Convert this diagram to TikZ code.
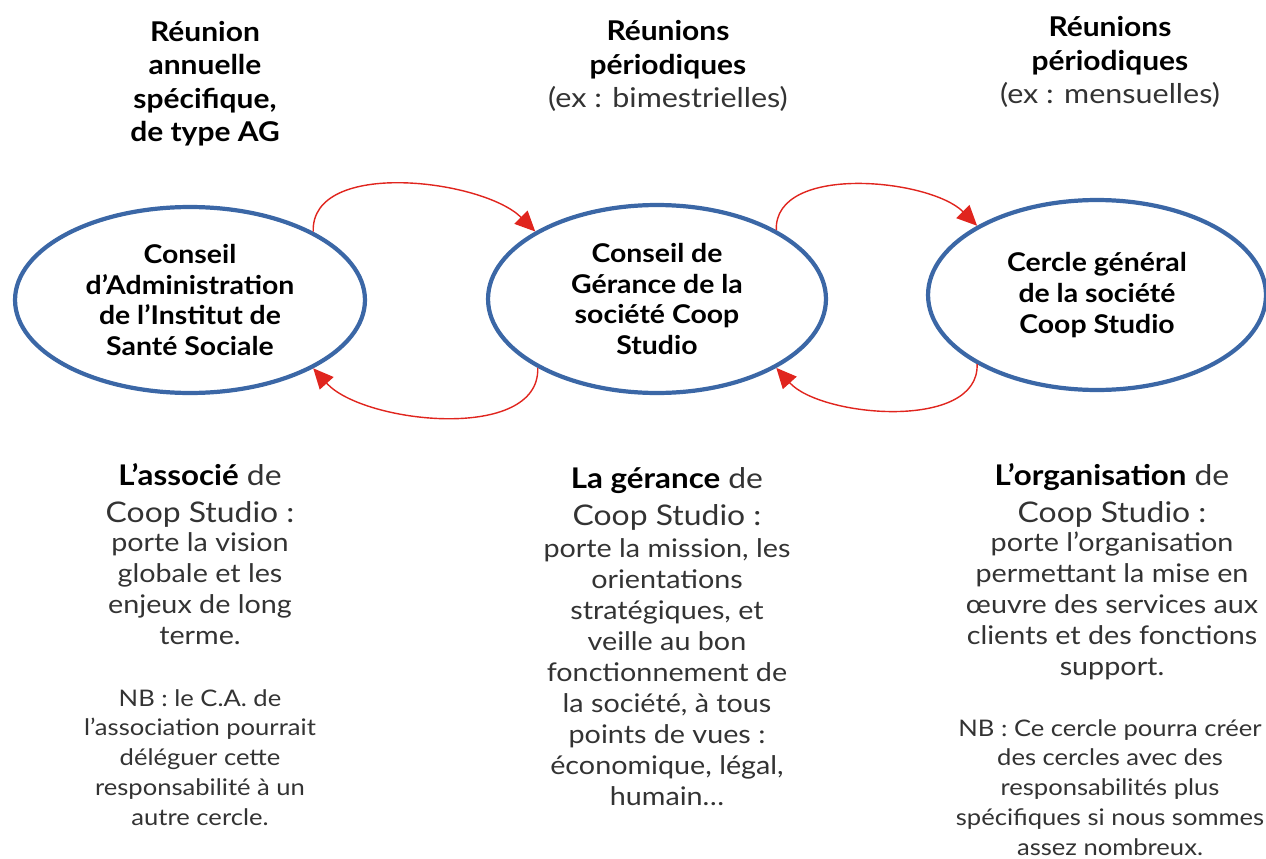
\documentclass[tikz,border=0pt]{standalone}
\usepackage{fontspec}
\setmainfont{Lato}[UprightFeatures={FakeStretch=1.12},BoldFeatures={FakeStretch=1.1}]
\usetikzlibrary{shapes.geometric,arrows.meta,positioning}
\definecolor{ringblue}{HTML}{3B67A6}
\definecolor{cyclered}{HTML}{E0251E}
\definecolor{bodygray}{HTML}{333333}
\tikzset{
  ring/.style={ellipse, draw=ringblue, line width=2.4pt, inner sep=0pt, align=center,
    font=\fontsize{14.7}{17.4}\selectfont\bfseries},
  meeting/.style={anchor=base, align=center, inner sep=0pt, font=\fontsize{15.5}{19.1}\selectfont},
  rolehead/.style={anchor=base, align=center, inner sep=0pt, text=bodygray, font=\fontsize{16.2}{20.5}\selectfont},
  roletext/.style={anchor=base, align=center, inner sep=0pt, text=bodygray, font=\fontsize{14.6}{17.6}\selectfont},
  nbtext/.style={anchor=base, align=center, inner sep=0pt, text=bodygray, font=\fontsize{13}{16.9}\selectfont},
  cyclearrow/.style={draw=cyclered, line width=0.8pt, -{Triangle[length=11.5pt,width=10.5pt]}}
}
\begin{document}
\begin{tikzpicture}[x=0.02cm,y=-0.02cm]
  \useasboundingbox (0,0) rectangle (1266,858);

  % les trois instances
  \node[ring, minimum width=7cm, minimum height=3.72cm] (ca) at (190,300)
    {Conseil\\d'Administration\\de l'Institut de\\Santé Sociale};
  \node[ring, minimum width=6.76cm, minimum height=3.76cm] (cg) at (657,299)
    {Conseil de\\Gérance de la\\société Coop\\Studio};
  \node[ring, minimum width=6.76cm, minimum height=3.8cm] (cercle) at (1097,295)
    {Cercle général\\de la société\\Coop Studio};

  % boucles entre instances
  \draw[cyclearrow] (ca.29) to[out=92,in=135,looseness=0.85] (cg.151);
  \draw[cyclearrow] (cg.210) to[out=-88,in=-48,looseness=0.85] (ca.-29);
  \draw[cyclearrow] (cg.30) to[out=92,in=135,looseness=0.85] (cercle.150);
  \draw[cyclearrow] (cercle.210) to[out=-88,in=-48,looseness=0.85] (cg.-30);

  % rythme des réunions
  \node[meeting] (agMeeting) at (205,142) {\bfseries Réunion\\\bfseries annuelle\\\bfseries spécifique,\\\bfseries de type AG};
  \node[meeting] (cgMeeting) at (668,108) {\bfseries Réunions\\\bfseries périodiques\\\textcolor{bodygray}{(ex : bimestrielles)}};
  \node[meeting] (cercleMeeting) at (1110,104) {\bfseries Réunions\\\bfseries périodiques\\\textcolor{bodygray}{(ex : mensuelles)}};

  % rôles
  \node[rolehead] (assocHead) at (200,522) {\textcolor{black}{\bfseries L’associé} de\\Coop Studio :};
  \node[roletext] (assocText) at (200,644) {porte la vision\\globale et les\\enjeux de long\\terme.};
  \node[nbtext] (assocNb) at (200,825) {NB : le C.A. de\\l’association pourrait\\déléguer cette\\responsabilité à un\\autre cercle.};

  \node[rolehead] (geranceHead) at (667,525) {\textcolor{black}{\bfseries La gérance} de\\Coop Studio :};
  \node[roletext] (geranceText) at (667,805) {porte la mission, les\\orientations\\stratégiques, et\\veille au bon\\fonctionnement de\\la société, à tous\\points de vues :\\économique, légal,\\humain…};

  \node[rolehead] (orgaHead) at (1112,522) {\textcolor{black}{\bfseries L’organisation} de\\Coop Studio :};
  \node[roletext] (orgaText) at (1112,675) {porte l’organisation\\permettant la mise en\\œuvre des services aux\\clients et des fonctions\\support.};
  \node[nbtext] (orgaNb) at (1110,855) {NB : Ce cercle pourra créer\\des cercles avec des\\responsabilités plus\\spécifiques si nous sommes\\assez nombreux.};
\end{tikzpicture}
\end{document}
